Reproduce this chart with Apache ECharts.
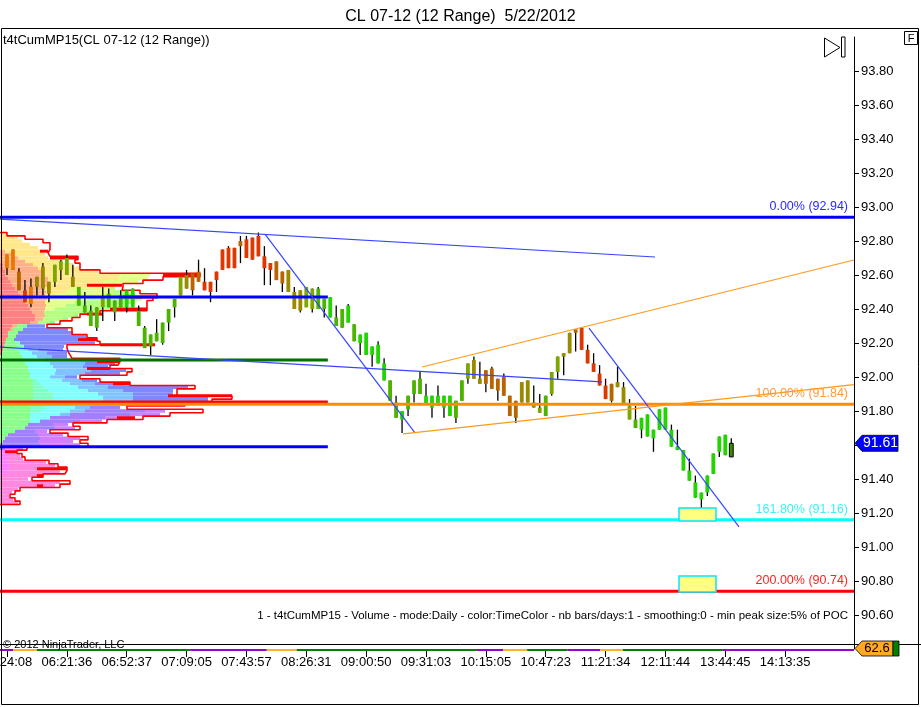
<!DOCTYPE html>
<html>
<head>
<meta charset="utf-8">
<title>CL 07-12 (12 Range) 5/22/2012</title>
<script src="https://cdn.jsdelivr.net/npm/echarts@6.0.0/dist/echarts.min.js"></script>
<style>
  html, body { margin: 0; padding: 0; background: #fff; }
  #chart { width: 921px; height: 707px; }
</style>
</head>
<body>
<div id="chart"></div>
<script>
// ---- data ----
const timeLabels = ['05:24:08', '06:21:36', '06:52:37', '07:09:05', '07:43:57', '08:26:31', '09:00:50',
    '09:31:03', '10:15:05', '10:47:23', '11:21:34', '12:11:44', '13:44:45', '14:13:35'];

// range bars: [open, close, low, high]
const candles = [
    [92.72,92.64,92.60,92.72],[92.63,92.75,92.63,92.75],[92.62,92.51,92.51,92.64],[92.51,92.44,92.44,92.57],
    [92.43,92.53,92.41,92.58],[92.53,92.59,92.48,92.59],[92.52,92.65,92.48,92.67],[92.56,92.49,92.44,92.56],
    [92.56,92.66,92.53,92.66],[92.63,92.68,92.57,92.69],[92.60,92.70,92.60,92.72],[92.59,92.53,92.53,92.66],
    [92.53,92.42,92.42,92.53],[92.42,92.38,92.38,92.50],[92.39,92.30,92.30,92.42],[92.29,92.41,92.27,92.41],
    [92.41,92.47,92.33,92.53],[92.41,92.49,92.41,92.52],[92.45,92.38,92.33,92.45],[92.41,92.48,92.41,92.51],
    [92.41,92.51,92.38,92.51],[92.41,92.52,92.41,92.52],[92.39,92.30,92.30,92.42],[92.29,92.17,92.17,92.30],
    [92.25,92.18,92.13,92.25],[92.21,92.26,92.21,92.34],[92.20,92.32,92.19,92.32],[92.32,92.40,92.27,92.40],
    [92.41,92.46,92.35,92.46],[92.48,92.59,92.48,92.59],[92.52,92.60,92.52,92.63],[92.51,92.61,92.48,92.61],
    [92.56,92.62,92.56,92.69],[92.56,92.51,92.51,92.64],[92.56,92.50,92.44,92.56],[92.57,92.62,92.50,92.62],
    [92.63,92.75,92.63,92.75],[92.64,92.76,92.64,92.77],[92.64,92.76,92.64,92.76],[92.77,92.80,92.67,92.83],
    [92.70,92.81,92.70,92.83],[92.69,92.82,92.69,92.82],[92.71,92.83,92.71,92.85],[92.71,92.64,92.54,92.77],
    [92.67,92.63,92.54,92.67],[92.68,92.57,92.57,92.68],[92.62,92.55,92.50,92.62],[92.63,92.50,92.50,92.63],
    [92.50,92.40,92.40,92.53],[92.51,92.39,92.38,92.51],[92.41,92.53,92.41,92.53],[92.52,92.40,92.38,92.52],
    [92.40,92.52,92.40,92.53],[92.46,92.40,92.35,92.46],[92.47,92.35,92.35,92.47],[92.35,92.30,92.30,92.42],
    [92.29,92.40,92.29,92.40],[92.32,92.42,92.32,92.43],[92.31,92.21,92.21,92.31],[92.25,92.20,92.13,92.25],
    [92.26,92.13,92.13,92.26],[92.18,92.13,92.06,92.18],[92.19,92.08,92.08,92.21],[92.08,91.98,91.98,92.11],
    [91.98,91.86,91.86,91.98],[91.85,91.76,91.76,91.89],[91.80,91.75,91.67,91.80],[91.81,91.89,91.77,91.89],
    [91.90,91.98,91.85,91.98],[91.90,91.99,91.90,92.03],[91.89,91.84,91.84,91.96],[91.89,91.82,91.76,91.89],
    [91.83,91.89,91.83,91.95],[91.89,91.82,91.76,91.89],[91.89,91.77,91.77,91.89],[91.76,91.86,91.73,91.86],
    [91.86,91.98,91.86,91.98],[91.99,92.08,91.96,92.08],[91.99,92.10,91.99,92.12],[91.99,91.96,91.96,92.09],
    [91.96,92.04,91.91,92.04],[92.05,91.93,91.93,92.06],[91.99,91.92,91.86,91.99],[91.89,92.00,91.89,92.02],
    [91.89,91.77,91.77,91.89],[91.86,91.76,91.73,91.86],[91.85,91.97,91.85,91.97],[91.85,91.98,91.85,91.98],
    [91.85,91.82,91.82,91.95],[91.82,91.79,91.79,91.90],[91.77,91.89,91.77,91.89],[91.90,92.03,91.89,92.03],
    [92.03,92.12,91.99,92.12],[92.12,92.14,92.01,92.14],[92.14,92.26,92.14,92.26],[92.26,92.28,92.15,92.28],
    [92.29,92.16,92.16,92.29],[92.16,92.08,92.08,92.19],[92.08,92.03,92.03,92.14],[92.02,91.95,91.95,92.07],
    [91.95,91.87,91.87,91.99],[91.86,91.96,91.85,91.96],[91.97,91.94,91.94,92.06],[91.94,91.84,91.84,91.97],
    [91.83,91.75,91.75,91.87],[91.75,91.70,91.70,91.83],[91.76,91.69,91.64,91.76],[91.65,91.78,91.65,91.78],
    [91.69,91.64,91.56,91.69],[91.69,91.81,91.69,91.81],[91.69,91.82,91.69,91.82],[91.69,91.59,91.59,91.72],
    [91.59,91.57,91.57,91.69],[91.57,91.45,91.45,91.57],[91.45,91.39,91.39,91.52],[91.38,91.29,91.29,91.42],
    [91.32,91.28,91.19,91.32],[91.32,91.42,91.30,91.42],[91.43,91.55,91.43,91.55],[91.56,91.65,91.53,91.65],
    [91.66,91.54,91.54,91.66],[91.53,91.61,91.53,91.64]
];

// bar colouring level (0 = green ... 5 = red, 6 = orange)
const barHeat = [
    6,6,4,5,6,3,3,3,2,2, 2,3,1,1,1,1,2,1,1,1, 0,0,1,1,1,1,1,1,1,2, 3,4,4,5,5,5,5,5,5,4,
    5,5,5,5,5,4,4,3,3,3, 2,2,1,1,0,1,1,0,1,0, 0,0,0,0,1,1,0,1,1,1, 0,0,0,0,0,1,1,2,3,3,
    4,4,4,4,4,4,3,3,3,2, 1,2,2,3,3,4,5,5,5,5, 5,4,3,3,2,1,0,0,0,0, 0,0,0,0,0,0,0,0,0,0, 0,0
];

// market profile rows (price ladder, outlined total volume, volume split by time period)
const profilePrice = [
    92.84,92.82,92.80,92.78,92.76,92.74,92.72,92.70,92.68,92.66,92.64,92.62,92.60,92.58,92.56,92.54,
    92.52,92.50,92.48,92.46,92.44,92.42,92.40,92.38,92.36,92.34,92.32,92.30,92.28,92.26,92.24,92.22,
    92.20,92.18,92.16,92.14,92.12,92.10,92.08,92.06,92.04,92.02,92.00,91.98,91.96,91.94,91.92,91.90,
    91.88,91.86,91.84,91.82,91.80,91.78,91.76,91.74,91.72,91.70,91.68,91.66,91.64,91.62,91.60,91.58,
    91.56,91.54,91.52,91.50,91.48,91.46,91.44,91.42,91.40,91.38,91.36,91.34,91.32,91.30,91.28,91.26
];
const profileTotal = [
    7,25,43,50,50,48,50,78,75,80,80,100,200,163,143,123,
    122,140,157,153,147,147,147,100,80,72,60,47,72,72,87,97,
    100,67,68,70,72,120,118,110,132,127,80,100,130,195,177,177,
    232,212,185,127,203,170,143,107,73,80,50,68,88,80,88,27,
    17,22,25,49,58,67,65,43,32,70,60,20,15,10,15,20
];
const profileSplit = [
    [[2,6]],[[2,18]],[[2,22]],[[2,30]],[[2,38]],[[1,5],[2,36]],[[1,12],[2,33]],[[1,18],[2,30]],
    [[1,25],[2,38]],[[0,3],[1,30],[2,40]],[[0,3],[1,35],[2,42]],[[0,5],[1,38],[2,55]],
    [[0,5],[1,40],[2,75],[3,30]],[[0,8],[1,40],[2,70],[3,30]],[[0,10],[1,38],[2,55],[3,35]],
    [[0,12],[1,35],[2,40],[3,30]],[[0,15],[1,30],[2,25],[3,40],[4,5]],[[0,18],[1,28],[2,20],[3,45],[4,15]],
    [[0,20],[1,25],[2,10],[3,50],[4,30]],[[0,22],[1,25],[3,40],[4,55]],[[0,25],[1,20],[3,30],[4,60]],
    [[0,28],[1,18],[3,20],[4,60]],[[0,30],[1,15],[3,10],[4,55]],[[0,32],[1,12],[4,50]],
    [[0,35],[1,10],[4,30],[5,3]],[[0,35],[1,8],[4,20],[5,5]],[[0,30],[1,8],[4,12],[5,5]],
    [[0,12],[1,5],[5,10],[9,18]],[[0,10],[1,3],[5,10],[9,45]],[[0,8],[5,10],[9,55]],[[0,8],[5,8],[9,70]],
    [[0,6],[5,8],[9,80]],[[0,5],[5,10],[6,5],[9,75]],[[0,4],[5,12],[6,8],[9,40]],
    [[0,3],[5,15],[6,10],[8,10],[9,25]],[[0,2],[5,18],[7,12],[8,15],[9,20]],[[5,22],[7,15],[8,15],[9,15]],
    [[5,25],[7,20],[8,35],[9,35]],[[5,25],[7,25],[8,35],[9,30]],[[5,28],[7,25],[8,30],[9,25]],
    [[5,28],[7,28],[8,35],[9,35]],[[5,30],[7,25],[8,30],[9,35]],[[5,30],[7,20],[8,15],[9,12]],
    [[5,32],[6,5],[7,25],[8,20],[9,15]],[[5,32],[6,8],[7,30],[8,25],[9,30]],[[5,33],[6,10],[7,35],[8,30],[9,80]],
    [[5,33],[6,15],[7,40],[8,35],[9,50]],[[5,33],[6,20],[7,45],[8,35],[9,40]],[[5,33],[6,20],[7,50],[8,30],[9,75]],
    [[5,33],[6,20],[7,50],[8,30],[9,75]],[[5,32],[6,20],[7,40],[8,30],[9,30],[10,25]],
    [[5,30],[6,15],[7,30],[8,15],[10,30]],[[5,30],[6,10],[7,30],[8,15],[10,60],[11,20]],
    [[5,30],[7,30],[8,10],[10,60],[11,30]],[[5,30],[7,20],[10,55],[11,30]],[[5,30],[7,10],[10,40],[11,22]],
    [[5,28],[10,25],[11,15]],[[5,25],[10,30],[11,20]],[[5,15],[10,20],[11,12]],[[5,8],[10,30],[11,25]],
    [[5,5],[10,35],[11,40]],[[5,3],[10,35],[11,35]],[[10,40],[11,40]],[[10,5],[12,18]],
    [[12,15]],[[12,10],[13,10]],[[12,8],[13,15]],[[12,8],[13,38]],[[12,10],[13,45]],[[12,10],[13,50]],
    [[12,8],[13,52]],[[13,40]],[[13,28]],[[13,60]],[[13,55]],[[13,18]],[[13,12]],[[13,9]],[[13,13]],[[13,18]]
];
// profile peaks: [price, volume from, volume to]
const profilePeaks = [
    [92.74,40,48],[92.70,50,78],[92.60,163,200],[92.54,87,122],[92.47,123,158],[92.40,110,147],
    [92.37,87,103],[92.22,78,97],[92.19,100,155],[92.09,97,120],[92.05,87,110],[91.96,113,130],
    [91.89,168,232],[91.76,117,135],[91.56,5,17],[91.46,37,67],[91.42,37,43],[91.36,37,43]
];

// value area / POC lines of the profile (VAH, POC, prev POC, VAL) and the bar where they stop
const vaPrice = [92.47, 92.10, 91.853, 91.59];
const vaEndBar = 53.6;

// fibonacci levels
const fibPct = ['0.00%', '100.00%', '161.80%', '200.00%'];
const fibPrice = [92.94, 91.84, 91.16, 90.74];

// hand drawn trend lines: [bar1, price1, bar2, price2, kind]  (0 = blue, 1 = orange)
const trendLines = [
    [-1.17, 92.929, 108.26, 92.706, 0],
    [43.10, 92.841, 68.16, 91.671, 0],
    [-1.17, 92.176, 99.40, 91.971, 0],
    [97.23, 92.288, 122.29, 91.118, 0],
    [69.33, 92.059, 141.5, 92.688, 1],
    [66.16, 91.665, 141.5, 91.955, 1]
];
// target boxes: [bar1, priceTop, bar2, priceBottom]
const targetBoxes = [
    [112.27, 91.229, 118.45, 91.153],
    [112.27, 90.829, 118.45, 90.735]
];

// lower indicator strip: [bar from, bar to, state]  (0 purple, 1 orange, 2 green)
const stripSegments = [
    [-1.17,1.0,0],[1.0,5.0,1],[5.0,30.6,2],[30.6,43.4,0],[43.4,48.4,1],[48.4,78.5,2],[78.5,82.9,0],
    [82.9,86.9,1],[86.9,93.6,2],[93.6,99.1,0],[99.1,102.9,1],[102.9,119.6,2],[119.6,141.5,0]
];
const stripValue = 62.6;

// ---- styling ----
const FONT = '"Liberation Sans", Arial, sans-serif';
const heatColors = ['#22d400', '#4cb400', '#7da600', '#998a00', '#b86400', '#dc3800', '#e87800'];
const periodColors = ['#ff8080', '#ffb088', '#ffe88c', '#e4ff88', '#b4ff80', '#88ff88', '#80ffc4',
    '#80ffff', '#80c4ff', '#8088ff', '#a080ff', '#d080ff', '#ff80ff', '#ff88e0'];
const vaColors = ['#0000ff', '#007000', '#ff0000', '#0000ff'];
const fibLine = ['#0000ff', '#ff8c00', '#00ffff', '#ff0000'];
const fibText = ['#2a2aff', '#ff9a40', '#3ff0f0', '#ff2020'];
const stripColors = ['#9900cc', '#ffb030', '#008000'];

const BAR_MIN = -1.168, BAR_MAX = 141.5;
const slots = Array.from({ length: 142 }, (_, k) => k);

const chart = echarts.init(document.getElementById('chart'));

function renderCandle(params, api) {
    const i = api.value(0);
    const o = api.value(1), c = api.value(2), lo = api.value(3), hi = api.value(4);
    const pHi = api.coord([i, hi]), pLo = api.coord([i, lo]);
    const pTop = api.coord([i, Math.max(o, c)]), pBot = api.coord([i, Math.min(o, c)]);
    const w = api.size([1, 0])[0] * 0.64;
    const last = params.dataIndex === candles.length - 1;
    return {
        type: 'group',
        children: [
            { type: 'line', shape: { x1: pHi[0], y1: pHi[1], x2: pLo[0], y2: pLo[1] },
              style: { stroke: '#000', lineWidth: 1.3 } },
            { type: 'rect', shape: { x: pTop[0] - w / 2, y: pTop[1], width: w, height: Math.max(1, pBot[1] - pTop[1]) },
              style: { fill: last ? '#3c8c00' : heatColors[barHeat[params.dataIndex]], stroke: last ? '#000' : null, lineWidth: 1 } }
        ]
    };
}

function renderProfile(params, api) {
    const k = params.dataIndex;
    const p = profilePrice[k];
    let acc = 0;
    const children = profileSplit[k].map(([period, vol]) => {
        const a = api.coord([acc, p + 0.01]);
        const b = api.coord([acc + vol, p - 0.01]);
        acc += vol;
        return { type: 'rect', shape: { x: a[0], y: a[1], width: b[0] - a[0], height: b[1] - a[1] },
                 style: { fill: periodColors[period] } };
    });
    return { type: 'group', children };
}

function renderPeak(params, api) {
    const a = api.coord([api.value(1), api.value(0)]);
    const b = api.coord([api.value(2), api.value(0)]);
    return { type: 'line', shape: { x1: a[0], y1: a[1], x2: b[0], y2: b[1] }, style: { stroke: '#ff0000', lineWidth: 3 } };
}

function renderVa(params, api) {
    const a = api.coord([BAR_MIN, api.value(0)]);
    const b = api.coord([vaEndBar, api.value(0)]);
    return { type: 'line', shape: { x1: a[0], y1: a[1], x2: b[0], y2: b[1] },
             style: { stroke: vaColors[params.dataIndex], lineWidth: 3 } };
}

function renderFib(params, api) {
    const k = params.dataIndex;
    const a = api.coord([BAR_MIN, api.value(0)]);
    const b = api.coord([BAR_MAX, api.value(0)]);
    return {
        type: 'group',
        children: [
            { type: 'line', shape: { x1: a[0], y1: a[1], x2: b[0], y2: b[1] }, style: { stroke: fibLine[k], lineWidth: 3 } },
            { type: 'text', x: b[0] - 6, y: a[1] - 4,
              style: { text: fibPct[k] + ' (' + fibPrice[k].toFixed(2) + ')', fill: fibText[k],
                       font: '12.5px ' + FONT, align: 'right', verticalAlign: 'bottom' } }
        ]
    };
}

function renderTrend(params, api) {
    const a = api.coord([api.value(0), api.value(1)]);
    const b = api.coord([api.value(2), api.value(3)]);
    const orange = api.value(4) === 1;
    return { type: 'line', shape: { x1: a[0], y1: a[1], x2: b[0], y2: b[1] },
             style: { stroke: orange ? '#ff9a1a' : '#3646ff', lineWidth: 1.2 } };
}

function renderBox(params, api) {
    const a = api.coord([api.value(0), api.value(1)]);
    const b = api.coord([api.value(2), api.value(3)]);
    return { type: 'rect', shape: { x: a[0], y: a[1], width: b[0] - a[0], height: b[1] - a[1] },
             style: { fill: '#ffff80', stroke: '#00e8ff', lineWidth: 1.5 } };
}

function renderStrip(params, api) {
    const a = api.coord([api.value(0), 0.25]);
    const b = api.coord([api.value(1), 0.25]);
    return { type: 'line', shape: { x1: a[0], y1: a[1], x2: b[0], y2: b[1] },
             style: { stroke: stripColors[api.value(2)], lineWidth: 2 } };
}

// step outline of the profile totals
const outlinePoints = [[0, profilePrice[0] + 0.01]];
profilePrice.forEach((p, k) => {
    outlinePoints.push([profileTotal[k], p + 0.01], [profileTotal[k], p - 0.01]);
});
outlinePoints.push([0, profilePrice[profilePrice.length - 1] - 0.01]);

const option = {
    animation: false,
    backgroundColor: '#ffffff',
    title: {
        text: 'CL 07-12 (12 Range)  5/22/2012',
        left: 'center',
        top: 4,
        textStyle: { fontFamily: FONT, fontSize: 16, fontWeight: 'normal', color: '#000' }
    },
    grid: [
        { left: 0, right: 67, top: 37, height: 612, containLabel: false, outerBoundsMode: 'none' },
        { left: 4, right: 67, top: 647, height: 4, containLabel: false, outerBoundsMode: 'none' }
    ],
    xAxis: [
        { gridIndex: 0, type: 'value', min: BAR_MIN, max: BAR_MAX, show: false },
        { gridIndex: 0, type: 'value', position: 'top', min: 0, max: 854, show: false },
        {
            gridIndex: 1, type: 'category', data: slots, boundaryGap: true,
            axisLine: { show: false, onZero: false },
            axisTick: { show: true, alignWithLabel: true, length: 6, lineStyle: { color: '#000' },
                        interval: (idx) => idx % 10 === 0 && idx <= 130 },
            axisLabel: { interval: (idx) => idx % 10 === 0 && idx <= 130, margin: 5, color: '#000',
                         fontFamily: FONT, fontSize: 13, alignMinLabel: 'center',
                         formatter: (v, idx) => timeLabels[idx / 10] || '' }
        },
        { gridIndex: 1, type: 'value', position: 'top', min: -0.5, max: 141.5, show: false }
    ],
    yAxis: [
        {
            gridIndex: 0, type: 'value', position: 'right', min: 90.4, max: 94.0, interval: 0.2,
            axisLine: { show: true, onZero: false, lineStyle: { color: '#000' } },
            axisTick: { show: true, length: 5, lineStyle: { color: '#000' } },
            splitLine: { show: false },
            axisLabel: { showMinLabel: false, showMaxLabel: false, margin: 7, color: '#000',
                         fontFamily: FONT, fontSize: 13, formatter: (v) => v.toFixed(2) }
        },
        { gridIndex: 1, type: 'value', min: 0, max: 1, show: false }
    ],
    series: [
        { type: 'custom', name: 'profile', xAxisIndex: 1, yAxisIndex: 0, silent: true, z: 1,
          data: profilePrice.map((p) => [0, p]), renderItem: renderProfile },
        { type: 'line', name: 'profileOutline', xAxisIndex: 1, yAxisIndex: 0, silent: true, z: 2,
          data: outlinePoints, symbol: 'none', lineStyle: { color: '#ff0000', width: 1.6 } },
        { type: 'custom', name: 'peaks', xAxisIndex: 1, yAxisIndex: 0, silent: true, z: 2,
          data: profilePeaks, encode: { x: [1, 2], y: 0 }, renderItem: renderPeak },
        { type: 'custom', name: 'CL 07-12', xAxisIndex: 0, yAxisIndex: 0, z: 3,
          data: candles.map((d, i) => [i, d[0], d[1], d[2], d[3]]),
          encode: { x: 0, y: [1, 2, 3, 4] }, renderItem: renderCandle },
        { type: 'custom', name: 'valueArea', xAxisIndex: 0, yAxisIndex: 0, silent: true, z: 4,
          data: vaPrice.map((p) => [p]), encode: { y: 0 }, renderItem: renderVa },
        { type: 'custom', name: 'fib', xAxisIndex: 0, yAxisIndex: 0, silent: true, z: 4,
          data: fibPrice.map((p) => [p]), encode: { y: 0 }, renderItem: renderFib },
        { type: 'custom', name: 'targets', xAxisIndex: 0, yAxisIndex: 0, silent: true, z: 5,
          data: targetBoxes, encode: { x: [0, 2], y: [1, 3] }, renderItem: renderBox },
        { type: 'custom', name: 'drawings', xAxisIndex: 0, yAxisIndex: 0, silent: true, z: 6,
          data: trendLines, encode: { x: [0, 2], y: [1, 3] }, renderItem: renderTrend },
        { type: 'custom', name: 'strip', xAxisIndex: 3, yAxisIndex: 1, silent: true, clip: false,
          data: stripSegments, encode: { x: [0, 1] }, renderItem: renderStrip }
    ]
};

chart.setOption(option);

// last price tag sits on the price scale
const lastPrice = candles[candles.length - 1][1];
const py = chart.convertToPixel({ yAxisIndex: 0 }, lastPrice);

chart.setOption({
    graphic: {
        elements: [
            { id: 'frame', type: 'rect', shape: { x: 1.5, y: 28.5, width: 917, height: 676 },
              style: { fill: null, stroke: '#000', lineWidth: 1 }, z: 10 },
            { id: 'sep', type: 'line', shape: { x1: 0, y1: 644.5, x2: 921, y2: 644.5 },
              style: { stroke: '#000', lineWidth: 1 }, z: 10 },
            { id: 'ind', type: 'text', x: 3, y: 40,
              style: { text: 't4tCumMP15(CL 07-12 (12 Range))', fill: '#000', font: '13px ' + FONT, verticalAlign: 'middle' }, z: 10 },
            { id: 'copy', type: 'text', x: 3, y: 645,
              style: { text: '\u00a9 2012 NinjaTrader, LLC', fill: '#000', font: '11px ' + FONT, verticalAlign: 'middle' }, z: 10 },
            { id: 'legend', type: 'text', x: 848, y: 616,
              style: { text: '1 - t4tCumMP15 - Volume - mode:Daily - color:TimeColor - nb bars/days:1 - smoothing:0 - min peak size:5% of POC',
                       fill: '#000', font: '11.5px ' + FONT, align: 'right', verticalAlign: 'middle' }, z: 10 },
            { id: 'playTri', type: 'polygon', shape: { points: [[824.5, 38], [840, 47.5], [824.5, 57]] },
              style: { fill: '#fff', stroke: '#000', lineWidth: 1 }, z: 10 },
            { id: 'playBar', type: 'rect', shape: { x: 841.5, y: 37, width: 3.5, height: 20 },
              style: { fill: '#fff', stroke: '#000', lineWidth: 1 }, z: 10 },
            { id: 'fBox', type: 'rect', shape: { x: 904.5, y: 31.5, width: 13, height: 13 },
              style: { fill: '#fff', stroke: '#000', lineWidth: 1 }, z: 10 },
            { id: 'fTxt', type: 'text', x: 911, y: 38.5,
              style: { text: 'F', fill: '#000', font: '11px ' + FONT, align: 'center', verticalAlign: 'middle' }, z: 11 },
            { id: 'priceTag', type: 'polygon',
              shape: { points: [[855, py], [862, py - 8], [898, py - 8], [898, py + 8], [862, py + 8]] },
              style: { fill: '#0000ff', stroke: '#000', lineWidth: 0.8 }, z: 10 },
            { id: 'priceTxt', type: 'text', x: 880.5, y: py,
              style: { text: lastPrice.toFixed(2), fill: '#fff', font: '14px ' + FONT, align: 'center', verticalAlign: 'middle' }, z: 11 },
            { id: 'stripTag', type: 'polygon',
              shape: { points: [[855, 648.5], [862, 641], [893, 641], [893, 656], [862, 656]] },
              style: { fill: '#ffaa22', stroke: '#000', lineWidth: 0.8 }, z: 10 },
            { id: 'stripTxt', type: 'text', x: 877, y: 648.5,
              style: { text: stripValue.toFixed(1), fill: '#000', font: '13px ' + FONT, align: 'center', verticalAlign: 'middle' }, z: 11 },
            { id: 'stripTag2', type: 'rect', shape: { x: 893, y: 641, width: 6, height: 15 },
              style: { fill: '#008000', stroke: '#000', lineWidth: 0.8 }, z: 10 }
        ]
    }
});

window.addEventListener('resize', () => {
    chart.resize();
});
</script>
</body>
</html>
